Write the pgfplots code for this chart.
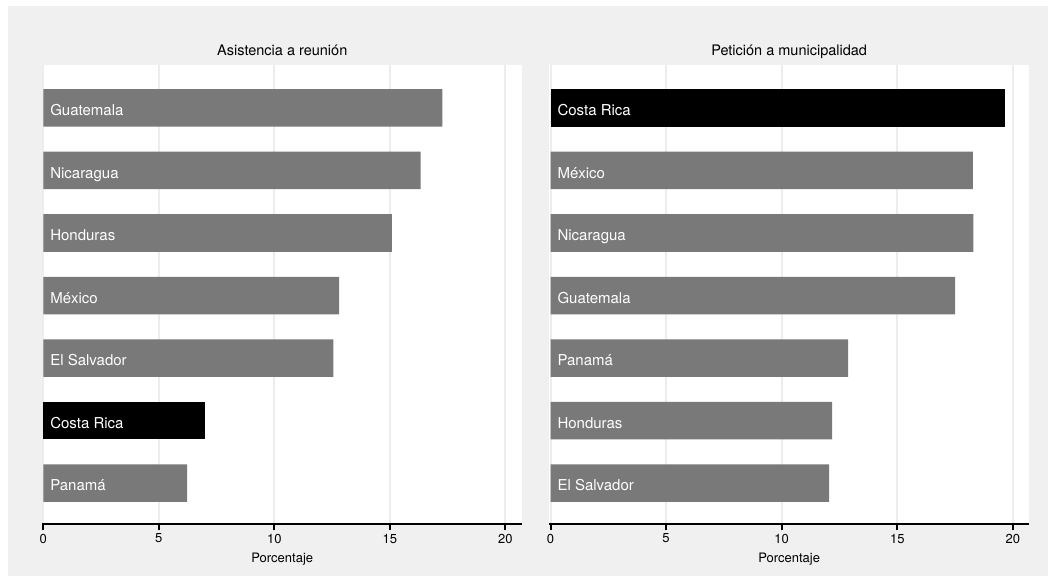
\documentclass[border=0pt]{standalone}
\usepackage{fontspec}
\setmainfont{TeX Gyre Heros}
\usepackage{pgfplots}
\pgfplotsset{compat=1.18}
\definecolor{bg}{RGB}{240,240,240}
\definecolor{gridc}{RGB}{237,237,237}
\definecolor{bargray}{RGB}{121,121,121}
\tikzset{lab/.style={anchor=base west, inner sep=0pt, xshift=6.8bp, yshift=-7.6bp, text=white, font=\fontsize{15bp}{17bp}\selectfont}}
\pgfplotsset{
  panel/.style={
    scale only axis, height=459.3bp,
    xbar, bar width=0.6,
    ymin=-0.657, ymax=6.686,
    axis background/.style={fill=white},
    axis x line*=bottom, axis y line=none,
    xtick={0,5,10,15,20}, ytick=\empty,
    xmajorgrids, major grid style={gridc, line width=2bp},
    tick align=outside, major tick length=6bp,
    x tick style={black, line width=2bp},
    x axis line style={line width=2.4bp, black},
    /pgf/number format/assume math mode=true,
    ticklabel style={font=\fontsize{13bp}{15bp}\selectfont},
    xlabel={Porcentaje},
    xlabel style={font=\fontsize{13bp}{15bp}\selectfont, at={(axis description cs:0.5,0)}, anchor=base, yshift=-38.2bp},
    title style={font=\fontsize{14.5bp}{17bp}\selectfont, at={(axis description cs:0.5,1)}, anchor=base, yshift=3.5bp},
  },
}
\begin{document}
\begin{tikzpicture}
\fill[white] (0,0) rectangle (1048bp,576bp);
\fill[bg] (8bp,0) rectangle (1048bp,570bp);
\begin{axis}[panel, at={(42.2bp,51.7bp)}, anchor=south west, width=480.1bp,
  xmin=-0.048, xmax=20.73, title={Asistencia a reunión}]
\addplot[fill=bargray, draw=none, bar shift=0pt] coordinates {
  (17.27,6) (16.33,5) (15.08,4) (12.80,3) (12.55,2) (6.22,0)};
\addplot[fill=black, draw=none, bar shift=0pt] coordinates {(7.00,1)};
\node[lab] at (axis cs:0,6) {Guatemala};
\node[lab] at (axis cs:0,5) {Nicaragua};
\node[lab] at (axis cs:0,4) {Honduras};
\node[lab] at (axis cs:0,3) {México};
\node[lab] at (axis cs:0,2) {El Salvador};
\node[lab] at (axis cs:0,1) {Costa Rica};
\node[lab] at (axis cs:0,0) {Panamá};
\end{axis}
\begin{axis}[panel, at={(549.3bp,51.7bp)}, anchor=south west, width=479.7bp,
  xmin=-0.052, xmax=20.7, title={Petición a municipalidad}]
\addplot[fill=black, draw=none, bar shift=0pt] coordinates {(19.65,6)};
\addplot[fill=bargray, draw=none, bar shift=0pt] coordinates {
  (18.27,5) (18.29,4) (17.50,3) (12.87,2) (12.18,1) (12.05,0)};
\node[lab] at (axis cs:0,6) {Costa Rica};
\node[lab] at (axis cs:0,5) {México};
\node[lab] at (axis cs:0,4) {Nicaragua};
\node[lab] at (axis cs:0,3) {Guatemala};
\node[lab] at (axis cs:0,2) {Panamá};
\node[lab] at (axis cs:0,1) {Honduras};
\node[lab] at (axis cs:0,0) {El Salvador};
\end{axis}
\pgfresetboundingbox
\path[use as bounding box] (0,0) rectangle (1048bp,576bp);
\end{tikzpicture}
\end{document}
